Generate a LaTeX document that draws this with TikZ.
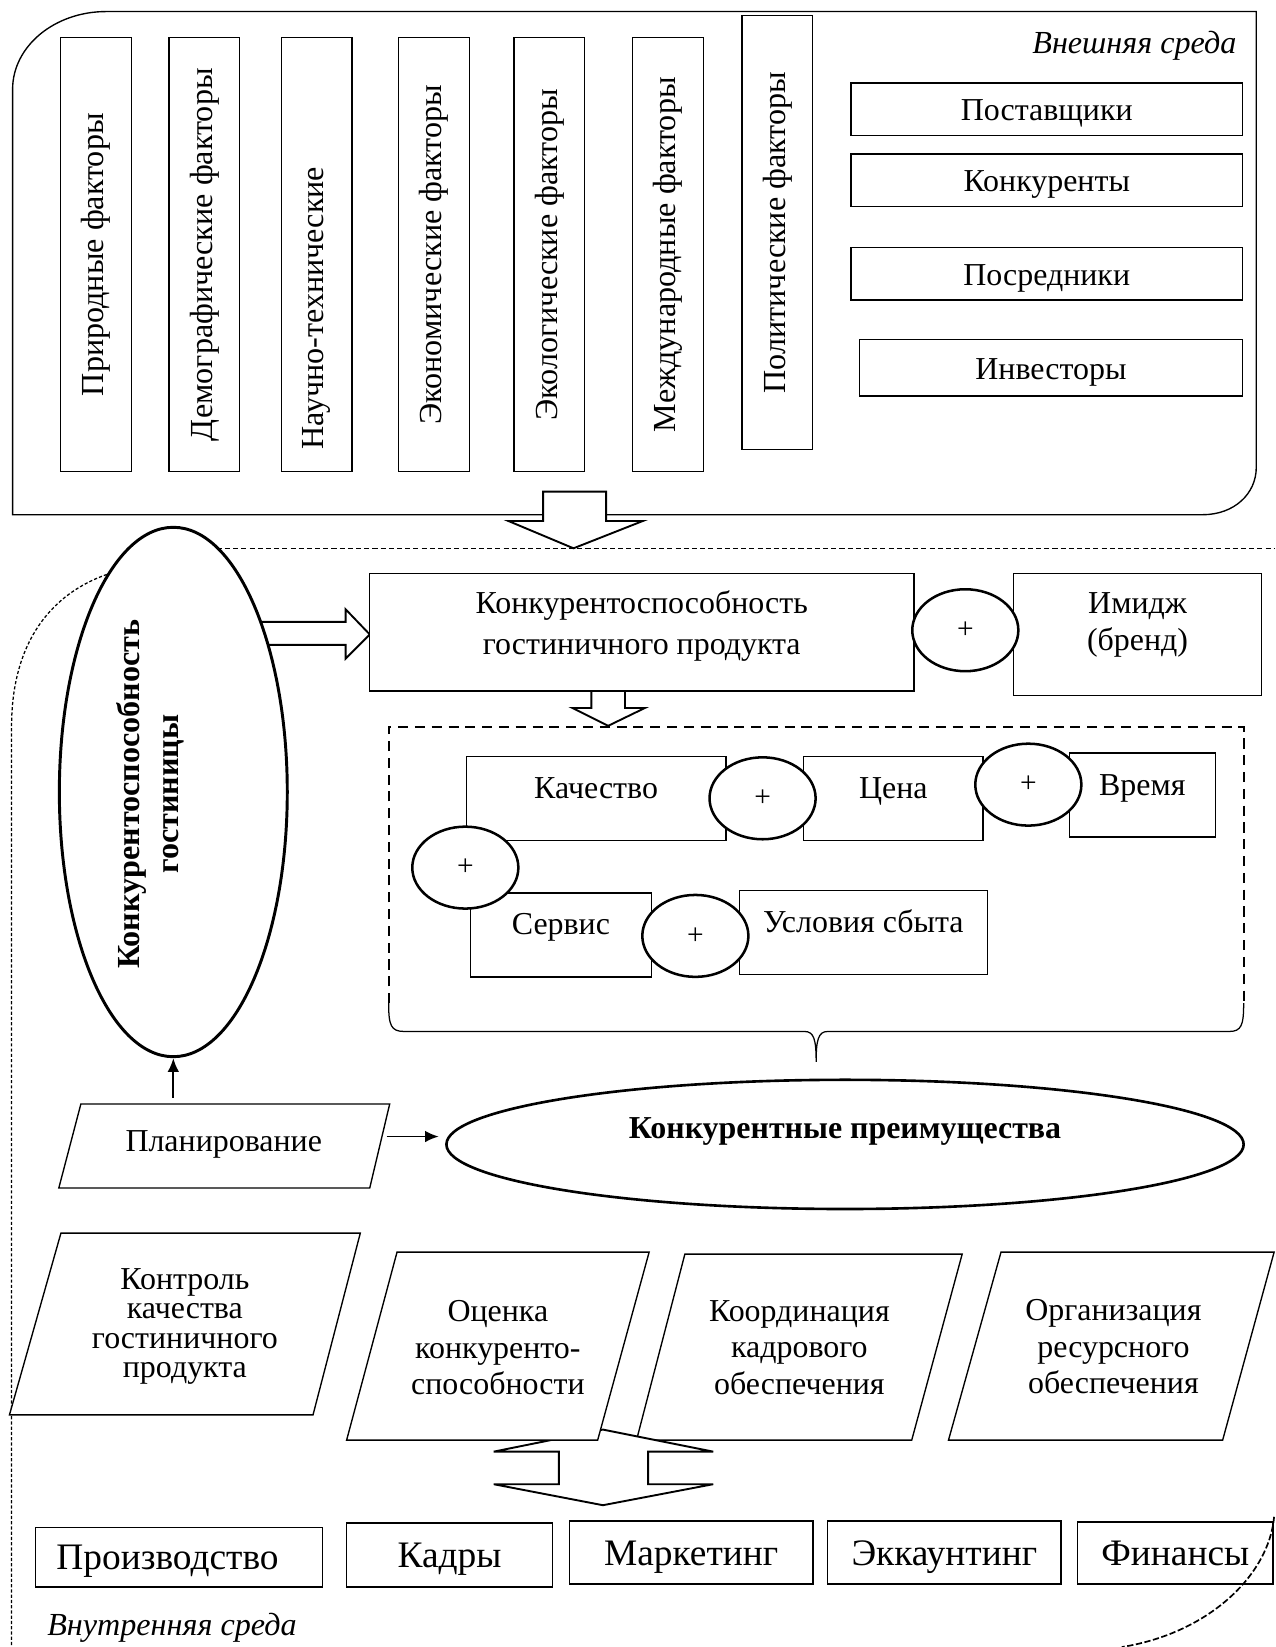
\documentclass[tikz,border=0pt]{standalone}
\usepackage{fontspec}
\setmainfont{Liberation Serif}
\usetikzlibrary{shapes.geometric,arrows.meta}

\tikzset{
  thinline/.style={line width=0.65pt},
  box/.style={draw, thinline, fill=white, inner sep=0pt},
  factor/.style={box, rotate=90, minimum width=206.5pt, minimum height=33.75pt, font=\fontsize{15.3}{18}\selectfont},
  partner/.style={box, minimum width=186.5pt, minimum height=25pt, text height=12pt, text depth=1pt},
  item/.style={box, minimum height=40pt, text height=6pt, text depth=6pt},
  plus/.style={ellipse, draw, line width=1.2pt, fill=white, inner sep=0pt, minimum width=50.5pt, minimum height=39pt, font=\fontsize{14}{16}\selectfont},
  dept/.style={box, text height=13pt, text depth=1pt, font=\fontsize{17.8}{20}\selectfont},
  para/.style={draw, thinline, fill=white},
  hollow/.style={draw, line width=0.9pt, line join=miter},
  ptext/.style={align=center, font=\fontsize{15.2}{17.5}\selectfont},
  linkarrow/.style={line width=0.9pt, -{Latex[length=6.5pt,width=5.5pt]}},
  envdash/.style={line width=0.6pt, dash pattern=on 1.5pt off 1pt},
}

\begin{document}
\begin{tikzpicture}[x=0.5pt, y=-0.5pt, font=\fontsize{15.2}{18}\selectfont]
    \useasboundingbox (0,0) rectangle (1214,1568);

    %%external environment
    \draw[thinline] (12,490) -- (12,85) .. controls (12,44) and (52,11) .. (101,11) -- (1196,11)
        -- (1196,445) .. controls (1196,470) and (1175,490) .. (1145,490) -- cycle;
    \node[font=\itshape\fontsize{15.3}{17}\selectfont] (extlbl) at (1080,44) {Внешняя среда};

    \node[factor] (nat) at (91.5,242.5) {Природные факторы};
    \node[factor] (dem) at (194.5,242.5) {Демографические факторы};
    \node[factor] (sci) at (301.5,242.5) {Научно-технические\hspace*{51pt}};
    \node[factor] (eco) at (413,242.5) {Экономические факторы};
    \node[factor] (ecol) at (523,242.5) {Экологические факторы};
    \node[factor] (intl) at (636,242.5) {Международные факторы};
    \node[factor] (pol) at (740,221.5) {Политические факторы};

    \node[partner] (sup) at (996.5,104) {Поставщики};
    \node[partner] (comp) at (996.5,171.5) {Конкуренты};
    \node[partner] (mid) at (996.5,260.5) {Посредники};
    \node[partner, minimum width=182.5pt, minimum height=27pt] (inv) at (1000.5,350) {Инвесторы};

    %%arrow down
    \draw[hollow, fill=white] (517,468) -- (577,468) -- (577,496) -- (612,496) -- (546,522)
        -- (484,496) -- (517,496) -- cycle;

    %%hotel
    \draw[hollow] (230,592) -- (329,592) -- (329,580) -- (352,604) -- (329,627) -- (329,614) -- (230,614);
    \node[ellipse, draw, line width=1.4pt, fill=white, inner sep=0pt, minimum width=108.5pt, minimum height=252pt] (hotel) at (165,754) {};
    \node[rotate=90, align=center, font=\bfseries\fontsize{15.3}{18.5}\selectfont] (hotelt) at (143,756) {Конкурентоспособность\\гостиницы};

    %%internal environment
    \coordinate (dR) at (1214,522);
    \draw[line width=0.6pt, dash pattern=on 2.4pt off 1.5pt] (hotel.80 |- dR) -- (dR);
    \draw[envdash] (hotel.107) .. controls (50,565) and (11,610) .. (11,692) -- (11,1568);

    \node[box, minimum width=259pt, minimum height=56pt] (prod) at (611,602) {};
    \node[align=center, font=\fontsize{15.2}{19.5}\selectfont] (prodt) at (611,596) {Конкурентоспособность\\гостиничного продукта};
    \node[box, minimum width=118pt, minimum height=58pt] (img) at (1083,604) {};
    \node[ptext] (imgt) at (1083,595) {Имидж\\(бренд)};
    \node[plus] (p0) at (919,600) {+};

    \draw[hollow] (563,658) -- (563,674) -- (545,674) -- (579,691) -- (614,674) -- (595,674) -- (595,658);

    %%dashed block and brace
    \draw[line width=1pt, dash pattern=on 4.8pt off 3.2pt] (370,955) -- (370,692) -- (1184,692) -- (1184,955);
    \draw[line width=0.6pt] (370,955) .. controls (370,976) and (372,982) .. (385,982) -- (766,982)
        .. controls (775,982) and (777,990) .. (777,1011) .. controls (777,990) and (779,982) .. (788,982)
        -- (1170,982) .. controls (1182,982) and (1184,976) .. (1184,955);

    \node[item, minimum width=123.5pt] (quality) at (567.5,760) {Качество};
    \node[item, minimum width=85.5pt] (price) at (850.5,760) {Цена};
    \node[item, minimum width=69.5pt] (time) at (1087.5,757) {Время};
    \node[item, minimum width=86pt] (service) at (534,890) {Сервис};
    \node[item, minimum width=118pt] (sales) at (822,888) {Условия сбыта};
    \node[plus] (p1) at (726,760) {+};
    \node[plus] (p2) at (979,747) {+};
    \node[plus] (p3) at (443,826) {+};
    \node[plus] (p4) at (662,891) {+};

    %%advantages
    \node[ellipse, draw, line width=1.25pt, inner sep=0pt, minimum width=379.5pt, minimum height=61.5pt,
        text height=8pt, text depth=13.5pt, font=\bfseries\fontsize{15.2}{18}\selectfont] (kp) at (804.5,1089.5) {Конкурентные преимущества};

    \draw[para] (56,1131) -- (352,1131) -- (371,1051) -- (77,1051) -- cycle;
    \node[ptext] (plan) at (213,1090) {Планирование};
    \coordinate (planTop) at (165,1045);
    \draw[linkarrow] (planTop) -- (hotel.south);
    \coordinate (planR) at (368,1082);
    \draw[linkarrow, shorten >=3pt] (planR) -- (planR -| kp.west);

    %%functions
    \draw[para] (9,1347) -- (298,1347) -- (343,1174) -- (58,1174) -- cycle;
    \node[align=center, font=\fontsize{15.2}{14}\selectfont] (control) at (176,1263) {Контроль\\качества\\гостиничного\\продукта};
    \draw[para] (606,1371) -- (868,1371) -- (916,1194) -- (652,1194) -- cycle;
    \node[ptext] (coord) at (761,1283) {Координация\\кадрового\\обеспечения};
    \draw[para] (903,1371) -- (1164,1371) -- (1213,1192) -- (953,1192) -- cycle;
    \node[ptext] (organ) at (1060,1282) {Организация\\ресурсного\\обеспечения};

    \draw[hollow, fill=white] (574,1361) -- (679,1382) -- (617,1382) -- (617,1413) -- (679,1413) -- (574,1433)
        -- (470,1413) -- (532,1413) -- (532,1382) -- (470,1382) -- cycle;

    \draw[para] (330,1371) -- (569,1371) -- (618,1192) -- (378,1192) -- cycle;
    \node[ptext] (assess) at (474,1283) {Оценка\\конкуренто-\\способности};

    %%departments
    \node[dept, minimum width=136.5pt, minimum height=28.5pt] (prodn) at (170.5,1482.5) {Производство\hspace*{11pt}};
    \node[dept, minimum width=98pt, minimum height=30.5pt] (staff) at (428,1480.5) {Кадры};
    \node[dept, minimum width=116pt, minimum height=30pt] (mkt) at (658,1478) {Маркетинг};
    \node[dept, minimum width=111pt, minimum height=30pt] (acc) at (899,1478) {Эккаунтинг};
    \node[dept, minimum width=93pt, minimum height=29.5pt] (fin) at (1119,1478.5) {Финансы};

    \node[anchor=base west, font=\itshape\fontsize{15.3}{17}\selectfont] (intlbl) at (38,1557) {Внутренняя среда};
    \draw[line width=0.8pt, dash pattern=on 3pt off 1.2pt] (1213,1444) .. controls (1208,1500) and (1150,1555) .. (1068,1568);

\end{tikzpicture}
\end{document}
